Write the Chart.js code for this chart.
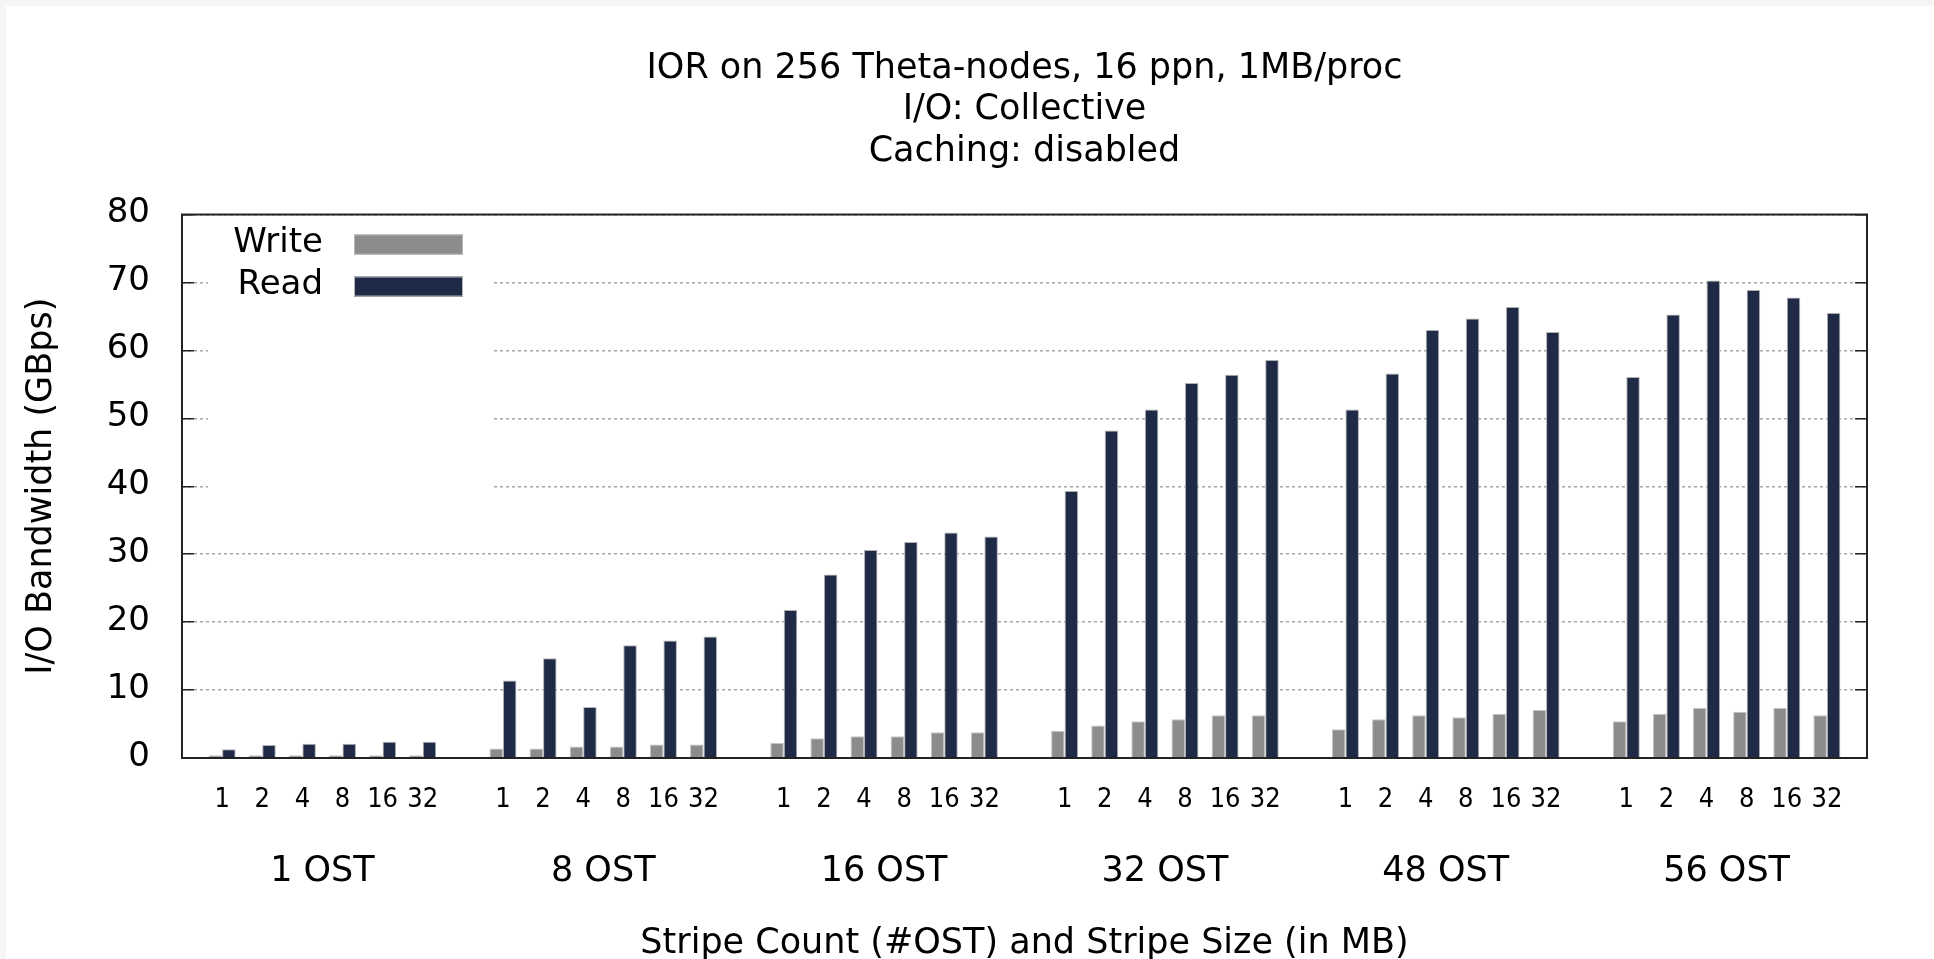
<!DOCTYPE html>
<html>
<head>
<meta charset="utf-8">
<script src="https://cdn.jsdelivr.net/npm/chart.js@4.4.1/dist/chart.umd.min.js"></script>
<style>
html,body{margin:0;padding:0;background:#f5f5f5;width:1934px;height:959px;overflow:hidden}
#wrap{position:absolute;left:6px;top:6px;width:1928px;height:953px;background:#fff}
canvas{display:block}
</style>
</head>
<body>
<div id="wrap"><canvas id="c" width="1928" height="953"></canvas></div>
<script>
// ---------------- data ----------------
const titleLines = ['IOR on 256 Theta-nodes, 16 ppn, 1MB/proc', 'I/O: Collective', 'Caching: disabled'];
const ostGroups = ['1 OST', '8 OST', '16 OST', '32 OST', '48 OST', '56 OST'];
const stripeSizes = ['1', '2', '4', '8', '16', '32'];
const seriesNames = ['Write', 'Read'];
// GBps, 6 stripe sizes per OST group
const writeBW = [
  0.4, 0.4, 0.4, 0.4, 0.4, 0.4,
  1.4, 1.4, 1.7, 1.7, 2.0, 2.0,
  2.2, 2.9, 3.2, 3.2, 3.8, 3.8,
  4.0, 4.8, 5.4, 5.7, 6.3, 6.3,
  4.25, 5.7, 6.3, 6.0, 6.5, 7.05,
  5.4, 6.5, 7.35, 6.8, 7.35, 6.3
];
const readBW = [
  1.3, 1.9, 2.1, 2.1, 2.4, 2.4,
  11.4, 14.7, 7.5, 16.6, 17.3, 17.9,
  21.8, 27.0, 30.6, 31.8, 33.2, 32.6,
  39.3, 48.2, 51.3, 55.2, 56.4, 58.6,
  51.3, 56.6, 63.0, 64.7, 66.4, 62.7,
  56.1, 65.3, 70.3, 68.9, 67.8, 65.5
];
const yMin = 0, yMax = 80, yStep = 10;
const xTitle = 'Stripe Count (#OST) and Stripe Size (in MB)';
const yTitle = 'I/O Bandwidth (GBps)';

// ---------------- histogram slots: 6 bars + 1 gap per group ----------------
const slotsPerGroup = stripeSizes.length + 1;
const positions = [];
ostGroups.forEach((g, gi) => stripeSizes.forEach((s, si) => positions.push(gi * slotsPerGroup + si)));
const groupCenters = ostGroups.map((g, gi) => gi * slotsPerGroup + (stripeSizes.length - 1) / 2);
const xMin = -1, xMax = ostGroups.length * slotsPerGroup - 1;

const toPoints = arr => arr.map((v, i) => ({x: positions[i], y: v}));

const FONT = 'DejaVu Sans';
const FONT_COND = '"DejaVu Sans Condensed", "DejaVu Sans"';
Chart.defaults.font.family = FONT;
Chart.defaults.color = '#000';

const colors = {Write: '#8c8c8f', Read: '#1f2a47'};

const keyPlugin = {
  id: 'gnuplotKey',
  beforeDatasetsDraw(chart) {
    const {ctx, chartArea: a} = chart;
    ctx.save();
    ctx.fillStyle = '#ffffff';
    ctx.fillRect(a.left + 26, a.top + 2, 283, 285);
    ctx.restore();
  },
  afterDatasetsDraw(chart) {
    const {ctx, chartArea: a} = chart;
    ctx.save();
    chart.data.datasets.forEach((ds, i) => {
      const base = a.top + 37 + i * 42;
      ctx.font = '34px "' + FONT + '"';
      ctx.textAlign = 'right';
      ctx.textBaseline = 'alphabetic';
      ctx.fillStyle = '#000';
      ctx.fillText(ds.label, a.left + 141, base);
      const sy = a.top + 20 + i * 42;
      ctx.fillStyle = ds.backgroundColor;
      ctx.fillRect(a.left + 172, sy, 109, 20);
      ctx.strokeStyle = '#b5b5b5';
      ctx.lineWidth = 1;
      ctx.strokeRect(a.left + 172.5, sy + 0.5, 108, 19);
    });
    ctx.restore();
  },
  afterDraw(chart) {
    const {ctx, chartArea: a} = chart;
    ctx.save();
    ctx.strokeStyle = '#222';
    ctx.lineWidth = 2;
    ctx.strokeRect(a.left, a.top, a.right - a.left, a.bottom - a.top);
    ctx.restore();
  }
};

const gridCommon = {
  color: '#a8a8a8',
  lineWidth: 1.5,
  drawTicks: true,
  tickLength: -12,
  tickColor: '#222',
  tickWidth: 1.5,
  tickBorderDash: []
};

new Chart(document.getElementById('c'), {
  type: 'bar',
  data: {
    datasets: [
      {label: seriesNames[0], data: toPoints(writeBW), backgroundColor: colors.Write,
       borderColor: '#c4c4c4', borderWidth: 1, xAxisID: 'x', yAxisID: 'y'},
      {label: seriesNames[1], data: toPoints(readBW), backgroundColor: colors.Read,
       borderColor: '#b0b0b0', borderWidth: 1, xAxisID: 'x', yAxisID: 'y'}
    ]
  },
  options: {
    responsive: false,
    animation: false,
    devicePixelRatio: 1,
    layout: {padding: {left: 0, right: 67, top: 0, bottom: 0}},
    datasets: {bar: {categoryPercentage: 0.673, barPercentage: 1.0, grouped: true}},
    plugins: {
      legend: {display: false},
      tooltip: {enabled: false},
      title: {
        display: true,
        text: titleLines,
        fullSize: false,
        color: '#000',
        font: {family: FONT, size: 35, weight: 'normal', lineHeight: 1.186},
        padding: {top: 42, bottom: 42}
      }
    },
    scales: {
      x: {
        type: 'linear', position: 'bottom', min: xMin, max: xMax, offset: false, weight: 0,
        afterBuildTicks: s => { s.ticks = positions.map(v => ({value: v})); },
        afterFit: s => { s.height = 70; },
        grid: {display: false, drawTicks: false},
        border: {display: false},
        ticks: {
          autoSkip: false, maxRotation: 0, minRotation: 0, padding: 26,
          font: {family: FONT_COND, size: 27, lineHeight: 1.2}, color: '#000',
          callback: (v, i) => stripeSizes[i % stripeSizes.length]
        }
      },
      xg: {
        type: 'linear', position: 'bottom', min: xMin, max: xMax, offset: false, weight: 1,
        afterBuildTicks: s => { s.ticks = groupCenters.map(v => ({value: v})); },
        afterFit: s => { s.height = 131; },
        grid: {display: false, drawTicks: false},
        border: {display: false},
        ticks: {
          autoSkip: false, maxRotation: 0, minRotation: 0, padding: 23,
          font: {family: FONT, size: 35, lineHeight: 1.2}, color: '#000',
          callback: (v, i) => ostGroups[i]
        },
        title: {
          display: true, text: xTitle, color: '#000',
          font: {family: FONT, size: 35, lineHeight: 0.86},
          padding: {top: 0, bottom: 0}
        }
      },
      y: {
        type: 'linear', position: 'left', min: yMin, max: yMax,
        afterFit: s => { s.width = 176; },
        grid: gridCommon,
        border: {display: false, dash: [3, 3]},
        ticks: {
          stepSize: yStep, padding: 44, labelOffset: -1,
          font: {family: FONT, size: 34, lineHeight: 1.2}, color: '#000'
        },
        title: {
          display: true, text: yTitle, color: '#000',
          font: {family: FONT, size: 35, lineHeight: 1.2},
          padding: {top: 15, bottom: 0}
        }
      },
      y2: {
        type: 'linear', position: 'right', min: yMin, max: yMax,
        afterFit: s => { s.width = 0; },
        grid: Object.assign({}, gridCommon, {drawOnChartArea: false}),
        border: {display: false},
        ticks: {stepSize: yStep, display: false}
      }
    }
  },
  plugins: [keyPlugin]
});
</script>
</body>
</html>
